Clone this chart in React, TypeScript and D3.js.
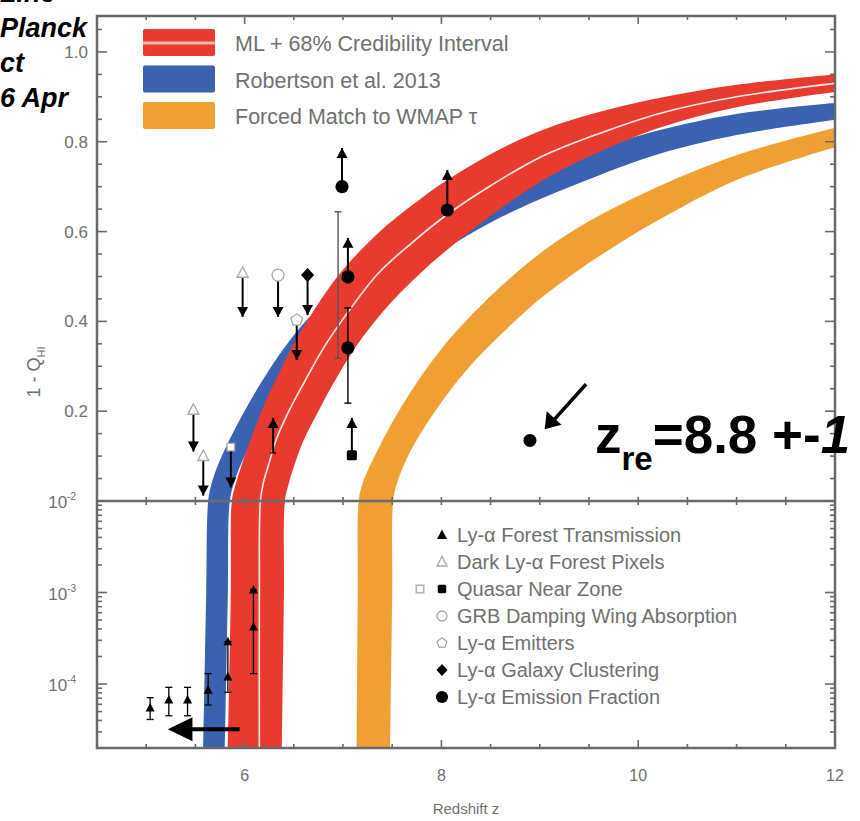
import React from 'react';
import * as d3 from 'd3';

const W = 860;
const H = 821;
const LEFT = 97;
const RIGHT = 835;
const TOP = 16;
const MID = 501;
const BOTTOM = 748;

const RED = '#e83b30';
const BLUE = '#3a62b0';
const ORANGE = '#f0a033';
const AXIS = '#6a6a6a';
const LABEL = '#707070';
const FONT = 'Liberation Sans, Arial, sans-serif';

// band edges, [redshift z, 1 - Q_HI]
const redUpper = [[5.83, 2e-5], [5.86, 1e-3], [5.87, 0.01], [5.9, 0.03], [5.97, 0.08], [6.05, 0.13], [6.2, 0.215], [6.35, 0.285], [6.5, 0.35], [6.75, 0.44], [7.0, 0.515], [7.4, 0.605], [7.8, 0.675], [8.06, 0.715], [8.4, 0.76], [8.8, 0.805], [9.2, 0.84], [9.7, 0.872], [10.2, 0.897], [11, 0.927], [12, 0.95]];
const redLower = [[6.38, 2e-5], [6.4, 1e-3], [6.41, 0.01], [6.45, 0.04], [6.59, 0.13], [6.75, 0.2], [6.95, 0.28], [7.2, 0.365], [7.5, 0.445], [7.8, 0.51], [8.1, 0.567], [8.5, 0.635], [9.0, 0.71], [9.5, 0.767], [10.2, 0.83], [11, 0.877], [12, 0.911]];
const mlLine = [[6.15, 2e-5], [6.15, 1e-3], [6.16, 0.01], [6.19, 0.04], [6.25, 0.085], [6.32, 0.136], [6.45, 0.2], [6.6, 0.262], [6.8, 0.34], [7.0, 0.405], [7.35, 0.505], [7.7, 0.575], [8.06, 0.638], [8.5, 0.702], [9.0, 0.765], [9.6, 0.818], [10.2, 0.862], [11, 0.9], [12, 0.93]];
const blueUpper = [[5.58, 2e-5], [5.61, 1e-3], [5.63, 0.01], [5.66, 0.035], [5.72, 0.075], [5.8, 0.115], [5.9, 0.16], [6.05, 0.22], [6.2, 0.275], [6.4, 0.34], [6.6, 0.395], [6.94, 0.47], [7.3, 0.535], [7.8, 0.605], [8.4, 0.675], [9.0, 0.735], [9.6, 0.785], [10.2, 0.825], [11, 0.862], [12, 0.886]];
const blueLower = [[5.8, 2e-5], [5.83, 1e-3], [5.85, 0.01], [5.9, 0.045], [6.0, 0.1], [6.2, 0.18], [6.5, 0.27], [6.9, 0.37], [7.4, 0.465], [8.0, 0.555], [8.5, 0.62], [9.0, 0.672], [9.6, 0.725], [10.2, 0.772], [11, 0.815], [12, 0.849]];
const orangeUpper = [[7.14, 2e-5], [7.15, 1e-3], [7.16, 0.01], [7.2, 0.04], [7.3, 0.09], [7.45, 0.155], [7.65, 0.23], [7.85, 0.295], [8.1, 0.365], [8.4, 0.435], [8.77, 0.51], [9.15, 0.575], [9.6, 0.635], [10.2, 0.7], [11, 0.77], [12, 0.831]];
const orangeLower = [[7.48, 2e-5], [7.5, 1e-3], [7.51, 0.01], [7.55, 0.04], [7.65, 0.095], [7.81, 0.158], [8.05, 0.235], [8.29, 0.3], [8.6, 0.37], [9.0, 0.45], [9.4, 0.515], [9.71, 0.56], [10.2, 0.625], [11, 0.715], [12, 0.788]];

// measurements
const forestPoints = [
  { z: 5.04, v: 5.5e-5, lo: 4.1e-5, hi: 7.1e-5 },
  { z: 5.23, v: 6.7e-5, lo: 4.5e-5, hi: 9.2e-5 },
  { z: 5.42, v: 6.7e-5, lo: 4.5e-5, hi: 9.2e-5 },
  { z: 5.63, v: 8.6e-5, lo: 5.9e-5, hi: 1.3e-4 },
  { z: 5.83, v: 1.2e-4, lo: 8.1e-5, hi: 2.9e-4 },
  { z: 5.83, v: 2.9e-4 },
  { z: 6.09, v: 4.2e-4, lo: 1.3e-4, hi: 1.07e-3 },
  { z: 6.09, v: 1.07e-3 },
];
const forestLimits = [{ z: 6.29, v: 0.107, to: 0.185 }];
const darkPixelLimits = [{ z: 5.48, v: 0.203, to: 0.11 }, { z: 5.58, v: 0.1, to: 0.012 }, { z: 5.98, v: 0.508, to: 0.41 }];
const quasarOpenLimits = [{ z: 5.86, v: 0.12, to: 0.03 }];
const quasarLimits = [{ z: 7.09, v: 0.102, to: 0.185 }];
const grbLimits = [{ z: 6.34, v: 0.503, to: 0.41 }];
const emitterLimits = [{ z: 6.53, v: 0.403, to: 0.314 }];
const emitterBars = [{ z: 6.95, lo: 0.318, hi: 0.644 }];
const clusteringLimits = [{ z: 6.64, v: 0.503, to: 0.414 }];
const fractionLimits = [{ z: 6.99, v: 0.7, to: 0.786 }, { z: 7.05, v: 0.499, to: 0.586 }, { z: 8.06, v: 0.648, to: 0.737 }];
const fractionBars = [{ z: 7.05, v: 0.341, lo: 0.218, hi: 0.43 }];

const bandLabels = ['ML + 68% Credibility Interval', 'Robertson et al. 2013', 'Forced Match to WMAP τ'];
const pointLabels = ['Ly-α Forest Transmission', 'Dark Ly-α Forest Pixels', 'Quasar Near Zone', 'GRB Damping Wing Absorption', 'Ly-α Emitters', 'Ly-α Galaxy Clustering', 'Ly-α Emission Fraction'];
const pointMarkers = ['triFilled', 'triOpen', 'sqFilled', 'circOpen', 'pentOpen', 'diamond', 'circFilled'];
const xTickLabels = [6, 8, 10, 12];
const yTickLabels = [0.2, 0.4, 0.6, 0.8, 1.0];
const logTickLabels = [1e-2, 1e-3, 1e-4];
const slideLines = ['Line', 'Planck', 'ct', '6 Apr'];

const x = d3.scaleLinear().domain([4.5, 12]).range([LEFT, RIGHT]);
const yUp = d3.scaleLinear().domain([0, 1.08]).range([MID, TOP]);
const yLog = d3.scaleLog().domain([2e-5, 1e-2]).range([BOTTOM, MID]);
const yv = (v: number) => (v > 0.01 ? yUp(v) : yLog(v));

const edge = d3.line<number[]>().x((d) => x(d[0])).y((d) => yv(d[1])).curve(d3.curveCatmullRom.alpha(0.5));
const band = (a: number[][], b: number[][]) => edge(a) + (edge([...b].reverse()) as string).replace(/^M/, 'L') + 'Z';

function Marker({ type, cx, cy, s = 10 }: { type: string; cx: number; cy: number; s?: number }) {
  const open = { fill: '#fff', stroke: '#a8a8a8', strokeWidth: 1.3 };
  switch (type) {
    case 'triFilled':
      return <polygon points={`${cx},${cy - s * 0.55} ${cx - s / 2},${cy + s * 0.4} ${cx + s / 2},${cy + s * 0.4}`} fill="#000" />;
    case 'triOpen':
      return <polygon points={`${cx},${cy - s * 0.55} ${cx - s / 2},${cy + s * 0.4} ${cx + s / 2},${cy + s * 0.4}`} {...open} />;
    case 'sqFilled':
      return <rect x={cx - s * 0.42} y={cy - s * 0.42} width={s * 0.84} height={s * 0.84} rx={1.5} fill="#000" />;
    case 'sqOpen':
      return <rect x={cx - s * 0.42} y={cy - s * 0.42} width={s * 0.84} height={s * 0.84} {...open} />;
    case 'circOpen':
      return <circle cx={cx} cy={cy} r={s * 0.5} {...open} />;
    case 'pentOpen': {
      const pts = d3.range(5).map((i) => {
        const a = -Math.PI / 2 + (i * 2 * Math.PI) / 5;
        return `${cx + Math.cos(a) * s * 0.52},${cy + Math.sin(a) * s * 0.52}`;
      });
      return <polygon points={pts.join(' ')} {...open} />;
    }
    case 'diamond':
      return <polygon points={`${cx},${cy - s * 0.6} ${cx + s * 0.55},${cy} ${cx},${cy + s * 0.6} ${cx - s * 0.55},${cy}`} fill="#000" />;
    case 'circFilled':
      return <circle cx={cx} cy={cy} r={s * 0.55} fill="#000" />;
    default:
      return null;
  }
}

function Head({ px, py, up }: { px: number; py: number; up: boolean }) {
  const b = up ? py + 10 : py - 10;
  return <polygon points={`${px},${py} ${px - 5.5},${b} ${px + 5.5},${b}`} fill="#000" />;
}

function Limit({ d, type, s = 12 }: { d: { z: number; v: number; to: number }; type: string; s?: number }) {
  const px = x(d.z);
  return (
    <g>
      <line x1={px} x2={px} y1={yv(d.v)} y2={yv(d.to)} stroke="#000" strokeWidth={2} />
      <Head px={px} py={yv(d.to)} up={d.to > d.v} />
      {type ? <Marker type={type} cx={px} cy={yv(d.v)} s={s} /> : <line x1={px - 3} x2={px + 3} y1={yv(d.v)} y2={yv(d.v)} stroke="#000" strokeWidth={1.2} />}
    </g>
  );
}

function ErrBar({ z, lo, hi, color = '#000', w = 1.3 }: { z: number; lo: number; hi: number; color?: string; w?: number }) {
  const px = x(z);
  return (
    <g stroke={color} strokeWidth={w}>
      <line x1={px} x2={px} y1={yv(lo)} y2={yv(hi)} />
      <line x1={px - 3.5} x2={px + 3.5} y1={yv(lo)} y2={yv(lo)} />
      <line x1={px - 3.5} x2={px + 3.5} y1={yv(hi)} y2={yv(hi)} />
    </g>
  );
}

export default function App() {
  const xTicks = x.ticks(15);
  const upTicks = yUp.ticks(20).filter((t) => t > 0 && t <= 1.05);
  const logTicks = yLog.ticks();
  const isMajorX = (t: number) => Math.abs(t % 2) < 1e-9;
  const isMajorUp = (t: number) => Math.abs(Math.round(t * 5) - t * 5) < 1e-6;
  const isMajorLog = (t: number) => Math.abs(Math.log10(t) - Math.round(Math.log10(t))) < 1e-6;

  // annotation positions, through the scales
  const arrowY = yLog(3.2e-5);

  return (
    <svg width={W} height={H} style={{ position: 'absolute', left: 0, top: 0, background: '#fff' }} fontFamily={FONT}>
      <defs>
        <clipPath id="plot">
          <rect x={LEFT} y={TOP} width={RIGHT - LEFT} height={BOTTOM - TOP} />
        </clipPath>
      </defs>

      <g clipPath="url(#plot)">
        <path d={band(orangeUpper, orangeLower)} fill={ORANGE} />
        <path d={band(blueUpper, blueLower)} fill={BLUE} />
        <path d={band(redUpper, redLower)} fill={RED} />
        <path d={edge(mlLine) as string} fill="none" stroke="#fff" strokeWidth={1.6} opacity={0.9} />
      </g>

      {/* frame and divider */}
      <g stroke={AXIS} strokeWidth={2.5} fill="none">
        <rect x={LEFT} y={TOP} width={RIGHT - LEFT} height={BOTTOM - TOP} />
        <line x1={LEFT} x2={RIGHT} y1={MID} y2={MID} />
      </g>
      <g stroke={AXIS} strokeWidth={1.6}>
        {xTicks.map((t) => {
          const l = isMajorX(t) ? 8 : 4;
          return (
            <g key={'x' + t}>
              <line x1={x(t)} x2={x(t)} y1={TOP} y2={TOP + l} />
              <line x1={x(t)} x2={x(t)} y1={BOTTOM} y2={BOTTOM - l} />
              <line x1={x(t)} x2={x(t)} y1={MID - 4} y2={MID + 4} />
            </g>
          );
        })}
        {upTicks.map((t) => {
          const l = isMajorUp(t) ? 10 : 5;
          return (
            <g key={'u' + t}>
              <line x1={LEFT} x2={LEFT + l} y1={yUp(t)} y2={yUp(t)} />
              <line x1={RIGHT} x2={RIGHT - l} y1={yUp(t)} y2={yUp(t)} />
            </g>
          );
        })}
        {logTicks.map((t, i) => {
          const l = isMajorLog(t) ? 10 : 5;
          return (
            <g key={'l' + i}>
              <line x1={LEFT} x2={LEFT + l} y1={yLog(t)} y2={yLog(t)} />
              <line x1={RIGHT} x2={RIGHT - l} y1={yLog(t)} y2={yLog(t)} />
            </g>
          );
        })}
      </g>

      {/* tick labels */}
      <g fill={LABEL} fontSize={17}>
        {yTickLabels.map((t) => (
          <text key={t} x={LEFT - 9} y={yUp(t) + 6} textAnchor="end">{t.toFixed(1)}</text>
        ))}
        {logTickLabels.map((t) => (
          <text key={t} x={LEFT - 21} y={yLog(t) + 7} textAnchor="end">
            10<tspan fontSize={10} dy={-8}>{Math.round(Math.log10(t))}</tspan>
          </text>
        ))}
        {xTickLabels.map((t) => (
          <text key={t} x={x(t)} y={781} textAnchor="middle" fontSize={16}>{t}</text>
        ))}
        <text x={(LEFT + RIGHT) / 2} y={814} textAnchor="middle" fontSize={15}>Redshift z</text>
        <text transform={`translate(40, 372) rotate(-90)`} textAnchor="middle" fontSize={18}>
          1 - Q<tspan fontSize={11} dy={5}>HI</tspan>
        </text>
      </g>

      {/* data */}
      <g>
        {emitterBars.map((d, i) => <ErrBar key={i} z={d.z} lo={d.lo} hi={d.hi} color="#555" w={1.4} />)}
        {fractionBars.map((d, i) => (
          <g key={i}>
            <ErrBar z={d.z} lo={d.lo} hi={d.hi} w={1.4} />
            <Marker type="circFilled" cx={x(d.z)} cy={yv(d.v)} s={12} />
          </g>
        ))}
        {forestPoints.map((d, i) => (
          <g key={i}>
            {d.lo !== undefined && <ErrBar z={d.z} lo={d.lo} hi={d.hi as number} />}
            <Marker type="triFilled" cx={x(d.z)} cy={yv(d.v)} s={9} />
          </g>
        ))}
        {forestLimits.map((d, i) => <Limit key={i} d={d} type="" />)}
        {darkPixelLimits.map((d, i) => <Limit key={i} d={d} type="triOpen" s={11} />)}
        {quasarOpenLimits.map((d, i) => <Limit key={i} d={d} type="sqOpen" s={9} />)}
        {quasarLimits.map((d, i) => <Limit key={i} d={d} type="sqFilled" s={12} />)}
        {grbLimits.map((d, i) => <Limit key={i} d={d} type="circOpen" s={12} />)}
        {emitterLimits.map((d, i) => <Limit key={i} d={d} type="pentOpen" s={12} />)}
        {clusteringLimits.map((d, i) => <Limit key={i} d={d} type="diamond" s={12} />)}
        {fractionLimits.map((d, i) => <Limit key={i} d={d} type="circFilled" s={12} />)}
      </g>

      {/* band legend */}
      <g>
        {[RED, BLUE, ORANGE].map((c, i) => (
          <g key={c}>
            <rect x={143} y={29 + i * 36.5} width={72} height={27} rx={2} fill={c} />
            {i === 0 && <line x1={143} x2={215} y1={43} y2={43} stroke="#f6b9b2" strokeWidth={3} />}
            <text x={235} y={51 + i * 36.5} fontSize={21.5} fill={LABEL}>{bandLabels[i]}</text>
          </g>
        ))}
      </g>

      {/* point legend */}
      <g>
        {pointLabels.map((l, i) => {
          const cy = 535 + i * 27;
          return (
            <g key={l}>
              {i === 2 && <Marker type="sqOpen" cx={420} cy={cy} s={9} />}
              <Marker type={pointMarkers[i]} cx={442} cy={cy} s={i === 6 ? 11 : 10} />
              <text x={457} y={cy + 7} fontSize={20} fill={LABEL}>{l}</text>
            </g>
          );
        })}
      </g>

      {/* slide annotations */}
      <g fontWeight="bold" fontStyle="italic" fontSize={27} fill="#000">
        {slideLines.map((s, i) => (
          <text key={s} x={0} y={2 + i * 35}>{s}</text>
        ))}
      </g>
      <g>
        <line x1={x(5.95)} x2={x(5.4)} y1={arrowY} y2={arrowY} stroke="#000" strokeWidth={4} />
        <polygon points={`${x(5.22)},${arrowY} ${x(5.47)},${arrowY - 12} ${x(5.47)},${arrowY + 12}`} fill="#000" />
        <circle cx={x(8.9)} cy={yUp(0.135)} r={6.5} fill="#000" />
        <line x1={x(9.47)} x2={x(9.1)} y1={yUp(0.26)} y2={yUp(0.17)} stroke="#000" strokeWidth={3.5} />
        <polygon points={`${x(9.05)},${yUp(0.16)} ${x(9.07)},${yUp(0.2)} ${x(9.22)},${yUp(0.17)}`} fill="#000" />
        <text x={595} y={453} fontSize={53} fontWeight="bold" fill="#000">
          z<tspan fontSize={33} dy={17}>re</tspan>
          <tspan dy={-17}>=8.8 +-</tspan>
          <tspan fontStyle="italic">1</tspan>
        </text>
      </g>
    </svg>
  );
}
